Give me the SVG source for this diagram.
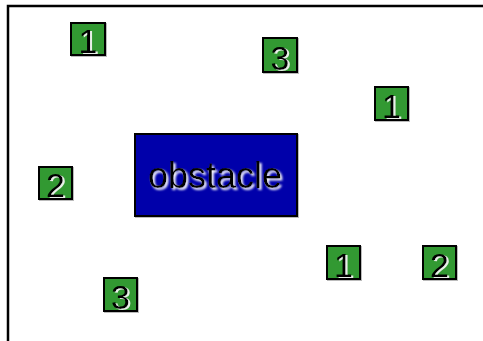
<svg xmlns="http://www.w3.org/2000/svg" width="483" height="341" viewBox="0 0 483 341">
<defs>
<filter id="glow" x="-20%" y="-20%" width="140%" height="140%">
<feGaussianBlur in="SourceAlpha" stdDeviation="1.2" result="b"/>
<feOffset in="b" dx="1.5" dy="1.5" result="o"/>
<feFlood flood-color="#ffffff"/>
<feComposite in2="o" operator="in" result="w"/>
<feMerge><feMergeNode in="w"/><feMergeNode in="SourceGraphic"/></feMerge>
</filter>
<filter id="glow2" x="-20%" y="-20%" width="140%" height="140%">
<feGaussianBlur in="SourceAlpha" stdDeviation="0.7" result="b"/>
<feOffset in="b" dx="1.5" dy="1" result="o"/>
<feFlood flood-color="#e8f0e8"/>
<feComposite in2="o" operator="in" result="w"/>
<feMerge><feMergeNode in="w"/><feMergeNode in="SourceGraphic"/></feMerge>
</filter>
<filter id="shadow" x="-10%" y="-10%" width="130%" height="130%">
<feOffset in="SourceAlpha" dx="1" dy="1" result="o"/>
<feFlood flood-color="#bbbbbb"/>
<feComposite in2="o" operator="in" result="s"/>
<feMerge><feMergeNode in="s"/><feMergeNode in="SourceGraphic"/></feMerge>
</filter>
</defs>
<style>
.frame{fill:none;stroke:#000;stroke-width:2.5}
.box{fill:#339933;stroke:#000;stroke-width:2;filter:url(#shadow)}
.obs{fill:#0000aa;stroke:#000;stroke-width:2;filter:url(#shadow)}
.num{font-family:"Liberation Sans",Arial,sans-serif;font-size:34px;fill:#000;text-anchor:middle;filter:url(#glow2)}
.lbl{font-family:"Liberation Sans",Arial,sans-serif;font-size:36px;fill:#000;text-anchor:middle;filter:url(#glow)}
</style>
<rect class="frame" x="8" y="6" width="500" height="360"/>
<g id="connectors"/>
<g id="obstacle">
<rect class="obs" x="135" y="134" width="162" height="82"/>
<text class="lbl" x="215" y="188">obstacle</text>
</g>
<g id="n1a"><rect class="box" x="71" y="23" width="34" height="32"/><text class="num" x="88" y="53">1</text></g>
<g id="n3a"><rect class="box" x="263" y="38" width="34" height="34"/><text class="num" x="280" y="70">3</text></g>
<g id="n1b"><rect class="box" x="375" y="87" width="33" height="33"/><text class="num" x="391.5" y="118">1</text></g>
<g id="n2a"><rect class="box" x="39" y="167" width="33" height="32"/><text class="num" x="55.5" y="197">2</text></g>
<g id="n1c"><rect class="box" x="327" y="246" width="33" height="33"/><text class="num" x="343.5" y="277">1</text></g>
<g id="n2b"><rect class="box" x="423" y="246" width="33" height="33"/><text class="num" x="439.5" y="277">2</text></g>
<g id="n3b"><rect class="box" x="104" y="278" width="33" height="33"/><text class="num" x="120.5" y="309">3</text></g>
</svg>
